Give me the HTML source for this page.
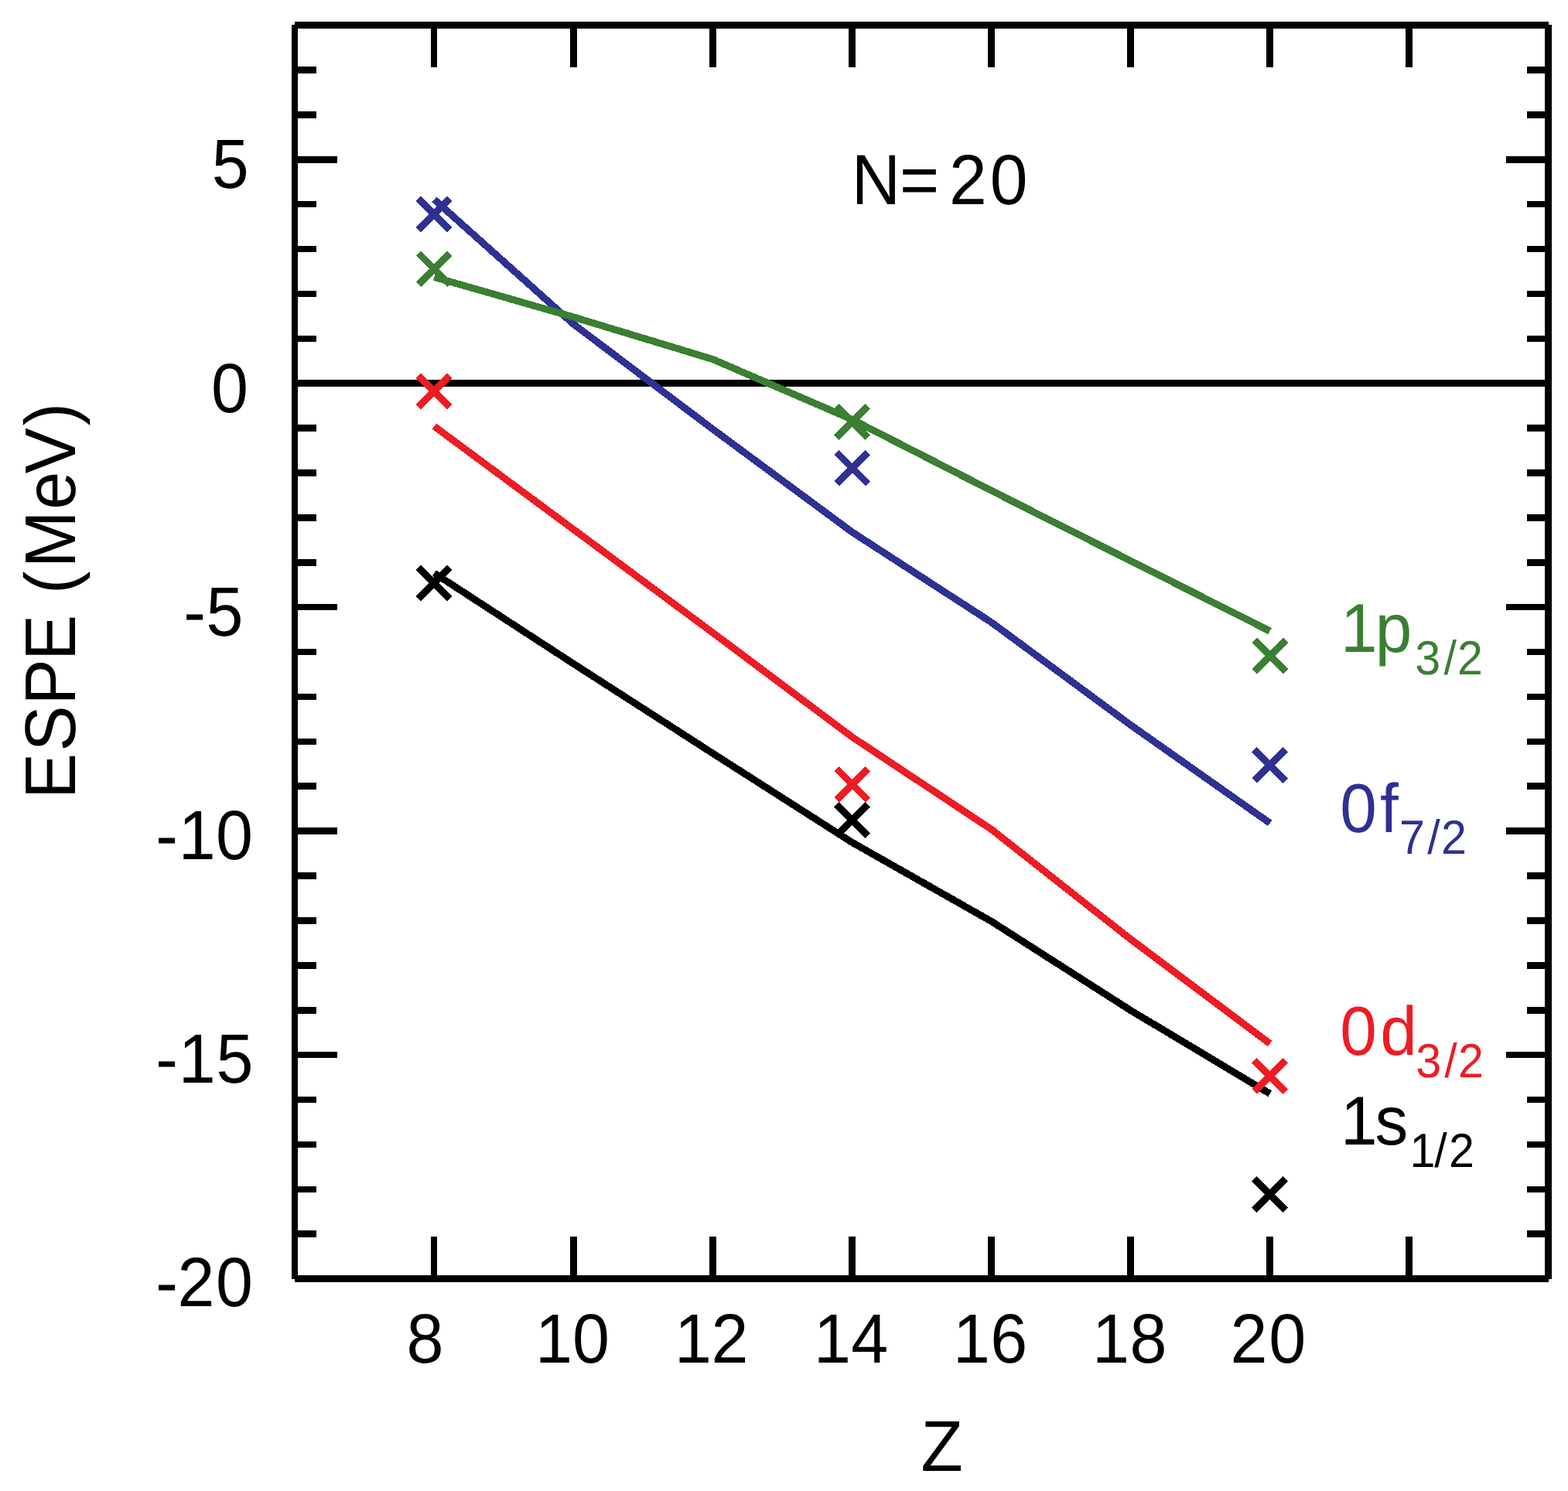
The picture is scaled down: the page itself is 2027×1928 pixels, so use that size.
<!DOCTYPE html>
<html lang="en">
<head>
<meta charset="utf-8">
<title>ESPE (MeV) vs Z, N=20</title>
<style>
html,body{margin:0;padding:0;background:#ffffff;}
body{width:2027px;height:1928px;overflow:hidden;}
svg{display:block;}
text{white-space:pre;}
</style>
</head>
<body>
<svg width="2027" height="1928" viewBox="0 0 2027 1928">
<rect x="0" y="0" width="2027" height="1928" fill="#ffffff"/>
<g id="axes" shape-rendering="crispEdges">
<rect x="381" y="28" width="1621" height="9" fill="#000000"/>
<rect x="381" y="1649" width="1621" height="9" fill="#000000"/>
<rect x="377" y="32" width="8" height="1622" fill="#000000"/>
<rect x="1997" y="32" width="9" height="1622" fill="#000000"/>
<rect x="381" y="491" width="1621" height="9" fill="#000000"/>
<rect x="381" y="1591" width="28" height="9" fill="#000000"/>
<rect x="1974" y="1591" width="28" height="9" fill="#000000"/>
<rect x="381" y="1534" width="28" height="8" fill="#000000"/>
<rect x="1974" y="1534" width="28" height="8" fill="#000000"/>
<rect x="381" y="1476" width="28" height="8" fill="#000000"/>
<rect x="1974" y="1476" width="28" height="8" fill="#000000"/>
<rect x="381" y="1418" width="28" height="8" fill="#000000"/>
<rect x="1974" y="1418" width="28" height="8" fill="#000000"/>
<rect x="381" y="1360" width="55" height="8" fill="#000000"/>
<rect x="1947" y="1360" width="55" height="8" fill="#000000"/>
<rect x="381" y="1302" width="28" height="9" fill="#000000"/>
<rect x="1974" y="1302" width="28" height="9" fill="#000000"/>
<rect x="381" y="1244" width="28" height="9" fill="#000000"/>
<rect x="1974" y="1244" width="28" height="9" fill="#000000"/>
<rect x="381" y="1186" width="28" height="9" fill="#000000"/>
<rect x="1974" y="1186" width="28" height="9" fill="#000000"/>
<rect x="381" y="1128" width="28" height="9" fill="#000000"/>
<rect x="1974" y="1128" width="28" height="9" fill="#000000"/>
<rect x="381" y="1070" width="55" height="9" fill="#000000"/>
<rect x="1947" y="1070" width="55" height="9" fill="#000000"/>
<rect x="381" y="1012" width="28" height="9" fill="#000000"/>
<rect x="1974" y="1012" width="28" height="9" fill="#000000"/>
<rect x="381" y="955" width="28" height="8" fill="#000000"/>
<rect x="1974" y="955" width="28" height="8" fill="#000000"/>
<rect x="381" y="897" width="28" height="8" fill="#000000"/>
<rect x="1974" y="897" width="28" height="8" fill="#000000"/>
<rect x="381" y="839" width="28" height="8" fill="#000000"/>
<rect x="1974" y="839" width="28" height="8" fill="#000000"/>
<rect x="381" y="781" width="55" height="8" fill="#000000"/>
<rect x="1947" y="781" width="55" height="8" fill="#000000"/>
<rect x="381" y="723" width="28" height="9" fill="#000000"/>
<rect x="1974" y="723" width="28" height="9" fill="#000000"/>
<rect x="381" y="665" width="28" height="9" fill="#000000"/>
<rect x="1974" y="665" width="28" height="9" fill="#000000"/>
<rect x="381" y="607" width="28" height="9" fill="#000000"/>
<rect x="1974" y="607" width="28" height="9" fill="#000000"/>
<rect x="381" y="549" width="28" height="9" fill="#000000"/>
<rect x="1974" y="549" width="28" height="9" fill="#000000"/>
<rect x="381" y="434" width="28" height="8" fill="#000000"/>
<rect x="1974" y="434" width="28" height="8" fill="#000000"/>
<rect x="381" y="376" width="28" height="8" fill="#000000"/>
<rect x="1974" y="376" width="28" height="8" fill="#000000"/>
<rect x="381" y="318" width="28" height="8" fill="#000000"/>
<rect x="1974" y="318" width="28" height="8" fill="#000000"/>
<rect x="381" y="260" width="28" height="8" fill="#000000"/>
<rect x="1974" y="260" width="28" height="8" fill="#000000"/>
<rect x="381" y="202" width="55" height="9" fill="#000000"/>
<rect x="1947" y="202" width="55" height="9" fill="#000000"/>
<rect x="381" y="144" width="28" height="9" fill="#000000"/>
<rect x="1974" y="144" width="28" height="9" fill="#000000"/>
<rect x="381" y="86" width="28" height="9" fill="#000000"/>
<rect x="1974" y="86" width="28" height="9" fill="#000000"/>
<rect x="557" y="32" width="8" height="55" fill="#000000"/>
<rect x="557" y="1599" width="8" height="55" fill="#000000"/>
<rect x="737" y="32" width="9" height="55" fill="#000000"/>
<rect x="737" y="1599" width="9" height="55" fill="#000000"/>
<rect x="917" y="32" width="9" height="55" fill="#000000"/>
<rect x="917" y="1599" width="9" height="55" fill="#000000"/>
<rect x="1097" y="32" width="9" height="55" fill="#000000"/>
<rect x="1097" y="1599" width="9" height="55" fill="#000000"/>
<rect x="1277" y="32" width="9" height="55" fill="#000000"/>
<rect x="1277" y="1599" width="9" height="55" fill="#000000"/>
<rect x="1457" y="32" width="9" height="55" fill="#000000"/>
<rect x="1457" y="1599" width="9" height="55" fill="#000000"/>
<rect x="1637" y="32" width="9" height="55" fill="#000000"/>
<rect x="1637" y="1599" width="9" height="55" fill="#000000"/>
<rect x="1817" y="32" width="9" height="55" fill="#000000"/>
<rect x="1817" y="1599" width="9" height="55" fill="#000000"/>
</g>
<g id="curves" fill="none" stroke-width="9.1" stroke-linejoin="round" stroke-linecap="butt" shape-rendering="crispEdges">
<polyline points="561.3,741.1 741.4,858.3 921.5,974.2 1101.5,1089.3 1281.6,1191.4 1461.6,1306.5 1641.7,1414.3" stroke="#000000"/>
<polyline points="561.3,551.2 741.4,684.6 921.5,818.2 1101.5,953.0 1281.6,1072.4 1461.6,1214.5 1641.7,1349.5" stroke="#ed1c24"/>
<polyline points="561.3,257.9 741.4,419.1 921.5,555.0 1101.5,688.0 1281.6,804.7 1461.6,937.5 1641.7,1064.4" stroke="#2e3192"/>
<polyline points="561.3,358.3 741.4,410.0 921.5,464.6 1101.5,542.4 1281.6,634.4 1461.6,725.2 1641.7,816.1" stroke="#3a7f32"/>
</g>
<g id="markers" fill="none" stroke-width="9.1" stroke-linecap="butt" shape-rendering="crispEdges">
<path d="M540.90 733.90L581.30 774.30M540.90 774.30L581.30 733.90M1081.40 1040.00L1121.80 1080.40M1081.40 1080.40L1121.80 1040.00M1621.40 1524.20L1661.80 1564.60M1621.40 1564.60L1661.80 1524.20" stroke="#000000"/>
<path d="M540.90 485.90L581.30 526.30M540.90 526.30L581.30 485.90M1081.40 993.90L1121.80 1034.30M1081.40 1034.30L1121.80 993.90M1621.50 1371.10L1661.90 1411.50M1621.50 1411.50L1661.90 1371.10" stroke="#ed1c24"/>
<path d="M540.90 256.90L581.30 297.30M540.90 297.30L581.30 256.90M1081.40 584.90L1121.80 625.30M1081.40 625.30L1121.80 584.90M1621.50 969.10L1661.90 1009.50M1621.50 1009.50L1661.90 969.10" stroke="#2e3192"/>
<path d="M540.90 327.45L581.30 367.85M540.90 367.85L581.30 327.45M1081.40 525.50L1121.80 565.90M1081.40 565.90L1121.80 525.50M1621.50 827.90L1661.90 868.30M1621.50 868.30L1661.90 827.90" stroke="#3a7f32"/>
</g>
<g id="labels" font-family="'Liberation Sans', sans-serif" text-rendering="geometricPrecision">
<text transform="translate(0 242.50) scale(0.955 1)" x="286.57" y="0" font-size="90.3" fill="#000000">5</text>
<text transform="translate(0 532.50) scale(0.955 1)" x="285.86" y="0" font-size="90.3" fill="#000000">0</text>
<text transform="translate(0 821.50) scale(0.955 1)" x="248.32 279.15" y="0" font-size="90.3" fill="#000000">-5</text>
<text transform="translate(0 1111.40) scale(0.955 1)" x="210.63 241.63 292.15" y="0" font-size="90.3" fill="#000000">-10</text>
<text transform="translate(0 1400.40) scale(0.955 1)" x="210.63 241.63 292.73" y="0" font-size="90.3" fill="#000000">-15</text>
<text transform="translate(0 1689.30) scale(0.955 1)" x="210.63 240.39 292.15" y="0" font-size="90.3" fill="#000000">-20</text>
<text transform="translate(0 1762.30) scale(0.955 1)" x="550.26" y="0" font-size="90.3" fill="#000000">8</text>
<text transform="translate(0 1762.30) scale(0.955 1)" x="724.50 774.96" y="0" font-size="90.3" fill="#000000">10</text>
<text transform="translate(0 1762.30) scale(0.955 1)" x="913.01 962.91" y="0" font-size="90.3" fill="#000000">12</text>
<text transform="translate(0 1762.30) scale(0.955 1)" x="1101.46 1152.20" y="0" font-size="90.3" fill="#000000">14</text>
<text transform="translate(0 1762.30) scale(0.955 1)" x="1289.97 1340.59" y="0" font-size="90.3" fill="#000000">16</text>
<text transform="translate(0 1762.30) scale(0.955 1)" x="1478.42 1529.28" y="0" font-size="90.3" fill="#000000">18</text>
<text transform="translate(0 1762.30) scale(0.955 1)" x="1665.42 1717.44" y="0" font-size="90.3" fill="#000000">20</text>
<text transform="translate(0 263.90) scale(0.955 1)" x="1152.66 1217.77 1284.89 1340.02" y="0" font-size="91.8" fill="#000000">N=20</text>
<text transform="translate(0 1901.95) scale(0.955 1)" x="1246.47" y="0" font-size="93" fill="#000000">Z</text>
<text transform="translate(0 842.90) scale(0.955 1)" font-size="89.5" fill="#3a7f32"><tspan x="1814.72 1861.54" y="0">1p</tspan><tspan x="1915.40 1954.35 1972.81" y="29.00" font-size="62">3/2</tspan></text>
<text transform="translate(0 1075.50) scale(0.955 1)" font-size="89.5" fill="#2e3192"><tspan x="1813.77 1868.05" y="0">0f</tspan><tspan x="1894.35 1932.15 1950.86" y="28.25" font-size="62">7/2</tspan></text>
<text transform="translate(0 1364.35) scale(0.955 1)" font-size="89.5" fill="#ed1c24"><tspan x="1813.77 1868.28" y="0">0d</tspan><tspan x="1916.58 1955.28 1973.86" y="28.51" font-size="62">3/2</tspan></text>
<text transform="translate(0 1479.88) scale(0.955 1)" font-size="89.5" fill="#000000"><tspan x="1814.72 1861.22" y="0">1s</tspan><tspan x="1908.34 1941.55 1961.37" y="28.89" font-size="62">1/2</tspan></text>
<text transform="translate(97.04 1030.0) rotate(-90) scale(0.955 1)" x="-3.23 61.38 124.03 184.20 245.20 274.40 309.57 388.53 437.24 502.08" y="0" font-size="92.8" fill="#000">ESPE (MeV)</text>
</g>
</svg>
</body>
</html>
